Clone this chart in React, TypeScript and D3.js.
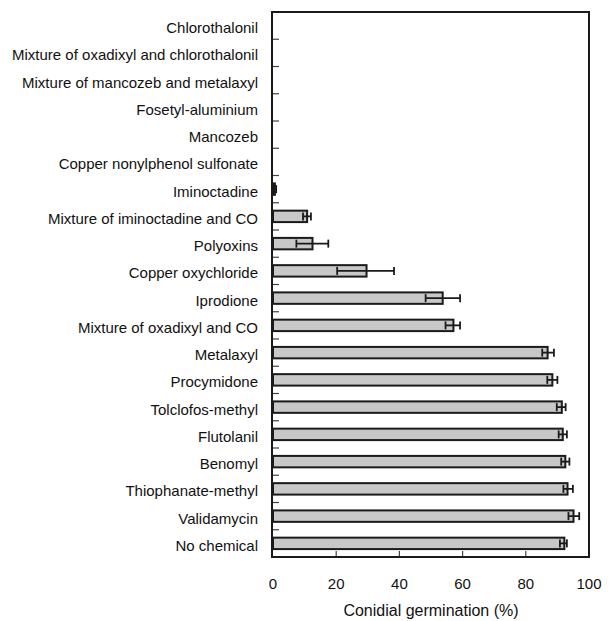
import React from "react";
import * as d3 from "d3";

// bottom-to-top order as in the figure, drawn top-to-bottom
const chemicals = [
  "Chlorothalonil",
  "Mixture of oxadixyl and chlorothalonil",
  "Mixture of mancozeb and metalaxyl",
  "Fosetyl-aluminium",
  "Mancozeb",
  "Copper nonylphenol sulfonate",
  "Iminoctadine",
  "Mixture of iminoctadine and CO",
  "Polyoxins",
  "Copper oxychloride",
  "Iprodione",
  "Mixture of oxadixyl and CO",
  "Metalaxyl",
  "Procymidone",
  "Tolclofos-methyl",
  "Flutolanil",
  "Benomyl",
  "Thiophanate-methyl",
  "Validamycin",
  "No chemical",
];
const germination = [0, 0, 0, 0, 0, 0, 0.6, 10.8, 12.5, 29.6, 53.7, 57.1, 86.9, 88.4, 91.4, 91.7, 92.5, 93.2, 95.1, 92.2];
const errLow = [0, 0, 0, 0, 0, 0, 0, 9.5, 7.4, 20.3, 48.3, 54.6, 85.2, 86.8, 89.8, 90.4, 91.2, 91.9, 93.5, 90.8];
const errHigh = [0, 0, 0, 0, 0, 0, 1.0, 12.0, 17.5, 38.3, 59.2, 59.2, 88.9, 90.0, 92.6, 93.0, 93.8, 94.9, 96.9, 93.0];
const xTicks = [0, 20, 40, 60, 80, 100];

const W = 612;
const H = 621;
const margin = { top: 12, right: 23, bottom: 64, left: 273 };
const font = "'Liberation Sans', Arial, sans-serif";

export default function App() {
  const x = d3.scaleLinear().domain([0, 100]).range([margin.left, W - margin.right]);
  const y = d3.scaleBand<string>().domain(chemicals).range([margin.top, H - margin.bottom]).paddingInner(0.58).paddingOuter(0.29);
  const step = y.step();
  const bh = y.bandwidth();
  const top = margin.top;
  const bottom = H - margin.bottom;

  return (
    <svg width={W} height={H} style={{ position: "absolute", left: 0, top: 0 }} fontFamily={font}>
      <rect x={0} y={0} width={W} height={H} fill="#fff" />
      {/* bars */}
      {chemicals.map((c, i) =>
        germination[i] > 0 ? (
          <rect key={c} x={x(0)} y={y(c)!} width={x(germination[i]) - x(0)} height={bh}
            fill="#c8c8c8" stroke="#1a1a1a" strokeWidth={2} />
        ) : null
      )}
      {/* error bars */}
      {chemicals.map((c, i) => {
        if (errHigh[i] <= 0) return null;
        const cy = y(c)! + bh / 2;
        return (
          <g key={"e" + c} stroke="#1a1a1a" strokeWidth={1.8}>
            <line x1={x(errLow[i])} x2={x(errHigh[i])} y1={cy} y2={cy} />
            <line x1={x(errLow[i])} x2={x(errLow[i])} y1={cy - 4} y2={cy + 4} />
            <line x1={x(errHigh[i])} x2={x(errHigh[i])} y1={cy - 4} y2={cy + 4} />
          </g>
        );
      })}
      {/* category ticks between rows */}
      {chemicals.slice(1).map((c, i) => {
        const yy = top + step * (i + 1);
        return <line key={"t" + c} x1={x(0)} x2={x(0) + 6} y1={yy} y2={yy} stroke="#444" strokeWidth={1.2} />;
      })}
      {/* x ticks */}
      {xTicks.slice(1, -1).map(t => (
        <line key={"xt" + t} x1={x(t)} x2={x(t)} y1={bottom} y2={bottom - 6} stroke="#444" strokeWidth={1.2} />
      ))}
      {/* frame */}
      <rect x={x(0) - 1} y={top} width={x(100) - x(0) + 1} height={bottom - top} fill="none" stroke="#1a1a1a" strokeWidth={2} />
      {/* category labels */}
      {chemicals.map(c => (
        <text key={"l" + c} x={258} y={y(c)! + bh / 2 + 7.5} textAnchor="end" fontSize={15} fill="#111">{c}</text>
      ))}
      {/* x tick labels */}
      {xTicks.map(t => (
        <text key={"xl" + t} x={x(t)} y={589} textAnchor="middle" fontSize={15} fill="#111">{t}</text>
      ))}
      <text x={(x(0) + x(100)) / 2} y={616} textAnchor="middle" fontSize={16} fill="#111">Conidial germination (%)</text>
    </svg>
  );
}
